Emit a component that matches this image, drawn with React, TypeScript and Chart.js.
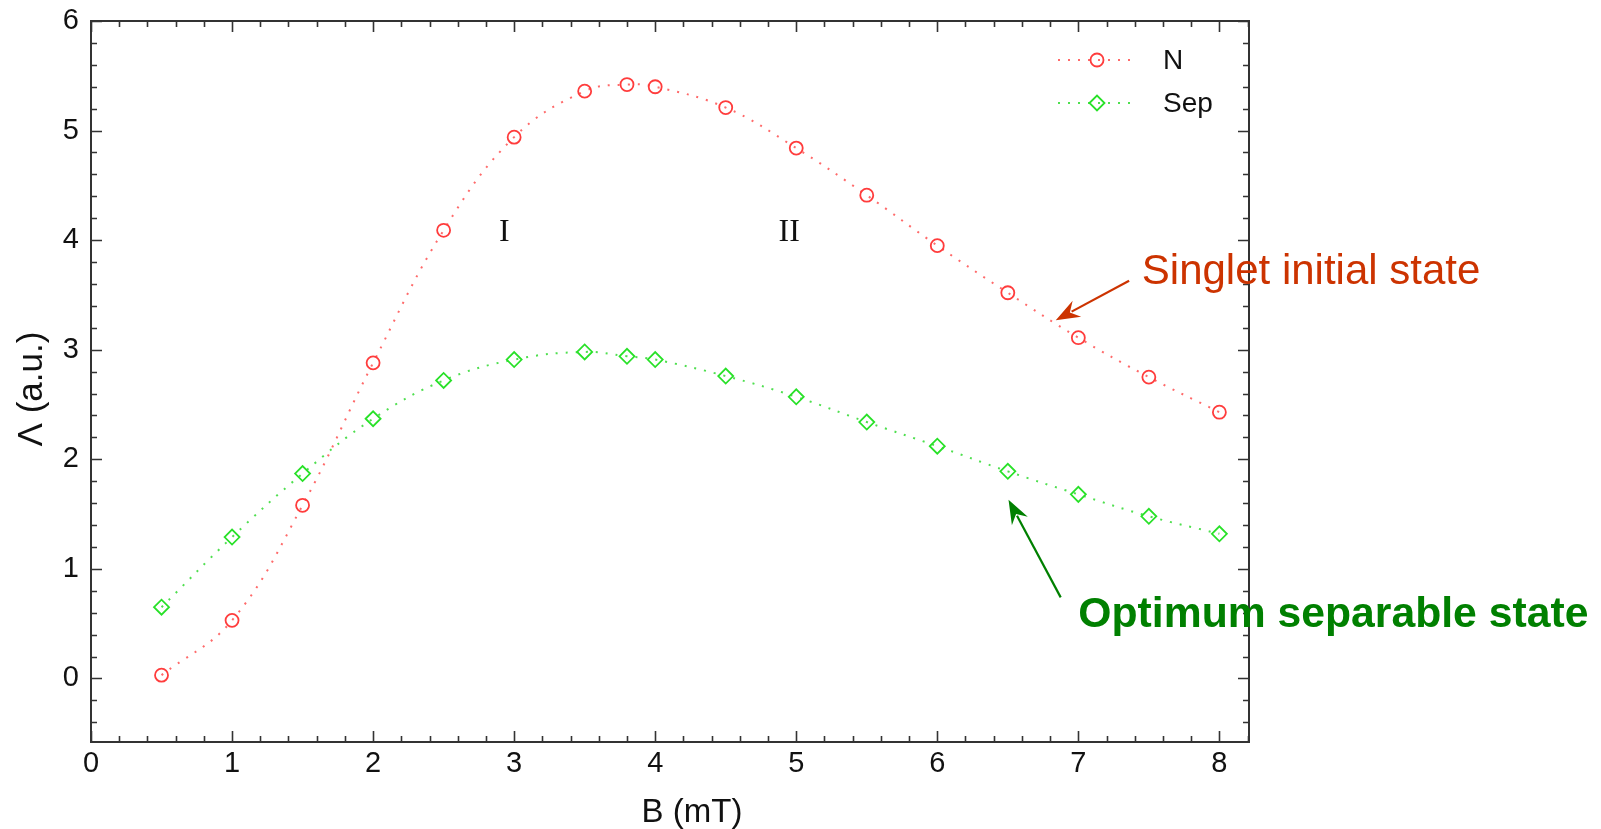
import React, { useEffect, useRef } from "react";
import { Chart, registerables } from "chart.js";

Chart.register(...registerables);

// ---- data ----
const bField = [0.5, 1, 1.5, 2, 2.5, 3, 3.5, 3.8, 4, 4.5, 5, 5.5, 6, 6.5, 7, 7.5, 8];
const lambdaN = [0.03, 0.53, 1.58, 2.88, 4.09, 4.94, 5.36, 5.42, 5.4, 5.21, 4.84, 4.41, 3.95, 3.52, 3.11, 2.75, 2.43];
const lambdaSep = [0.65, 1.29, 1.87, 2.37, 2.72, 2.91, 2.98, 2.94, 2.91, 2.76, 2.57, 2.34, 2.12, 1.89, 1.68, 1.48, 1.32];
const seriesLabels = ["N", "Sep"];
const xTicks = [0, 1, 2, 3, 4, 5, 6, 7, 8];
const yTicks = [0, 1, 2, 3, 4, 5, 6];
const xTitle = "B (mT)";
const yTitle = "Λ (a.u.)";

const RED = "rgb(255,60,60)";
const RED_LINE = "rgba(255,90,90,0.9)";
const GREEN = "rgb(40,225,40)";
const GREEN_LINE = "rgba(60,220,60,0.9)";
const AXIS = "#333";
const SANS = "'Liberation Sans', Arial, sans-serif";

const framePlugin = {
  id: "frameTicks",
  afterDatasetsDraw(chart: any) {
    const { ctx, chartArea: a, scales } = chart;
    const xs = scales.x;
    const ys = scales.y;
    ctx.save();
    ctx.strokeStyle = AXIS;
    ctx.lineWidth = 2;
    ctx.strokeRect(a.left, a.top, a.right - a.left, a.bottom - a.top);
    ctx.lineWidth = 1.6;
    ctx.beginPath();
    for (let i = 0; i <= 41; i++) {
      const v = i * 0.2;
      if (v > xs.max + 1e-9) break;
      const major = i % 5 === 0;
      const len = major ? 11 : 6;
      const px = Math.round(xs.getPixelForValue(v)) + 0.5;
      ctx.moveTo(px, a.bottom);
      ctx.lineTo(px, a.bottom - len);
      ctx.moveTo(px, a.top);
      ctx.lineTo(px, a.top + len);
    }
    for (let i = -2; i <= 30; i++) {
      const v = i * 0.2;
      if (v < ys.min - 1e-9) continue;
      const major = i % 5 === 0;
      const len = major ? 11 : 6;
      const py = Math.round(ys.getPixelForValue(v)) + 0.5;
      ctx.moveTo(a.left, py);
      ctx.lineTo(a.left + len, py);
      ctx.moveTo(a.right, py);
      ctx.lineTo(a.right - len, py);
    }
    ctx.stroke();
    ctx.restore();
  },
};

function arrow(ctx: any, x1: number, y1: number, x2: number, y2: number, color: string) {
  const ang = Math.atan2(y2 - y1, x2 - x1);
  const hl = 24;
  const hw = 9;
  const bx = x2 - hl * Math.cos(ang);
  const by = y2 - hl * Math.sin(ang);
  ctx.save();
  ctx.strokeStyle = color;
  ctx.fillStyle = color;
  ctx.lineWidth = 2.2;
  ctx.beginPath();
  ctx.moveTo(x1, y1);
  ctx.lineTo(bx + 6 * Math.cos(ang), by + 6 * Math.sin(ang));
  ctx.stroke();
  ctx.beginPath();
  ctx.moveTo(x2, y2);
  ctx.lineTo(bx - hw * Math.sin(ang), by + hw * Math.cos(ang));
  ctx.lineTo(bx + 8 * Math.cos(ang), by + 8 * Math.sin(ang));
  ctx.lineTo(bx + hw * Math.sin(ang), by - hw * Math.cos(ang));
  ctx.closePath();
  ctx.fill();
  ctx.restore();
}

const annotationPlugin = {
  id: "annotations",
  afterDraw(chart: any) {
    const { ctx, scales } = chart;
    const X = (v: number) => scales.x.getPixelForValue(v);
    const Y = (v: number) => scales.y.getPixelForValue(v);
    ctx.save();

    // axis titles
    ctx.fillStyle = "#111";
    ctx.textAlign = "center";
    ctx.textBaseline = "middle";
    ctx.font = "33px " + SANS;
    ctx.fillText(xTitle, 692, 813);
    ctx.save();
    ctx.translate(32, 389);
    ctx.rotate(-Math.PI / 2);
    ctx.font = "35px " + SANS;
    ctx.fillText(yTitle, 0, 0);
    ctx.restore();

    // region labels
    ctx.fillStyle = "#111";
    ctx.font = "32px 'Liberation Serif', 'DejaVu Serif', serif";
    ctx.textAlign = "center";
    ctx.textBaseline = "middle";
    ctx.fillText("I", X(2.93), Y(4.07));
    ctx.fillText("II", X(4.95), Y(4.07));

    // Singlet annotation
    ctx.textAlign = "left";
    ctx.fillStyle = "#CC3300";
    ctx.font = "42px " + SANS;
    ctx.fillText("Singlet initial state", X(7.45), Y(3.71));
    arrow(ctx, X(7.36), Y(3.63), X(6.84), Y(3.27), "#CC3300");

    // Separable annotation
    ctx.fillStyle = "#008000";
    ctx.font = "bold 42.7px " + SANS;
    ctx.fillText("Optimum separable state", X(7.0), Y(0.58));
    arrow(ctx, X(6.875), Y(0.74), X(6.505), Y(1.63), "#008000");

    // legend
    const items = [
      { label: seriesLabels[0], color: RED, line: RED_LINE, style: "circle", y: 60 },
      { label: seriesLabels[1], color: GREEN, line: GREEN_LINE, style: "rectRot", y: 103 },
    ];
    ctx.font = "28px " + SANS;
    ctx.textBaseline = "middle";
    for (const it of items) {
      ctx.save();
      ctx.strokeStyle = it.line;
      ctx.lineWidth = 2;
      ctx.setLineDash([2, 8]);
      ctx.beginPath();
      ctx.moveTo(1058, it.y);
      ctx.lineTo(1136, it.y);
      ctx.stroke();
      ctx.restore();
      ctx.save();
      ctx.strokeStyle = it.color;
      ctx.lineWidth = 1.8;
      ctx.beginPath();
      if (it.style === "circle") {
        ctx.arc(1097, it.y, 6.5, 0, Math.PI * 2);
      } else {
        ctx.moveTo(1097 - 7.5, it.y);
        ctx.lineTo(1097, it.y - 7.5);
        ctx.lineTo(1097 + 7.5, it.y);
        ctx.lineTo(1097, it.y + 7.5);
        ctx.closePath();
      }
      ctx.stroke();
      ctx.restore();
      ctx.fillStyle = "#111";
      ctx.textAlign = "left";
      ctx.fillText(it.label, 1163, it.y + 1);
    }
    ctx.restore();
  },
};

export default function App() {
  const ref = useRef<HTMLCanvasElement>(null);

  useEffect(() => {
    const canvas = ref.current;
    if (!canvas) return;
    const tickFont = { family: SANS, size: 29 };
    const chart = new Chart(canvas, {
      type: "line",
      data: {
        datasets: [
          {
            label: seriesLabels[0],
            data: bField.map((b, i) => ({ x: b, y: lambdaN[i] })),
            borderColor: RED_LINE,
            borderWidth: 2,
            borderDash: [2, 8],
            tension: 0.4,
            pointStyle: "circle",
            pointRadius: 6.5,
            pointBorderWidth: 1.8,
            pointBorderColor: RED,
            pointBackgroundColor: "rgba(0,0,0,0)",
            fill: false,
          },
          {
            label: seriesLabels[1],
            data: bField.map((b, i) => ({ x: b, y: lambdaSep[i] })),
            borderColor: GREEN_LINE,
            borderWidth: 2,
            borderDash: [2, 8],
            tension: 0.4,
            pointStyle: "rectRot",
            pointRadius: 7.5,
            pointBorderWidth: 1.8,
            pointBorderColor: GREEN,
            pointBackgroundColor: "rgba(0,0,0,0)",
            fill: false,
          },
        ],
      },
      options: {
        animation: false,
        responsive: false,
        devicePixelRatio: 1,
        layout: { padding: { left: 0, top: 21, right: 1601 - 1249, bottom: 0 } },
        plugins: { legend: { display: false }, tooltip: { enabled: false } },
        events: [],
        scales: {
          x: {
            type: "linear",
            min: 0,
            max: 8.21,
            afterBuildTicks: (s: any) => {
              s.ticks = xTicks.map((v) => ({ value: v }));
            },
            afterFit: (s: any) => {
              s.height = 87;
              s.paddingLeft = 0;
              s.paddingRight = 0;
            },
            grid: { display: false, drawTicks: false },
            border: { display: false },
            ticks: {
              font: tickFont,
              color: "#111",
              padding: 5,
              maxRotation: 0,
              autoSkip: false,
              callback: (v: any) => String(v),
            },
            title: { display: false },
          },
          y: {
            type: "linear",
            min: -0.58,
            max: 6,
            afterBuildTicks: (s: any) => {
              s.ticks = yTicks.map((v) => ({ value: v }));
            },
            afterFit: (s: any) => {
              s.width = 91;
              s.paddingTop = 0;
              s.paddingBottom = 0;
            },
            grid: { display: false, drawTicks: false },
            border: { display: false },
            ticks: {
              font: tickFont,
              color: "#111",
              padding: 12,
              autoSkip: false,
              callback: (v: any) => String(v),
            },
            title: { display: false },
          },
        },
      } as any,
      plugins: [framePlugin, annotationPlugin],
    });
    return () => chart.destroy();
  }, []);

  return (
    <div style={{ position: "absolute", left: 0, top: 0, width: 1601, height: 829, background: "#fff" }}>
      <canvas ref={ref} width={1601} height={829} style={{ display: "block", width: 1601, height: 829 }} />
    </div>
  );
}
